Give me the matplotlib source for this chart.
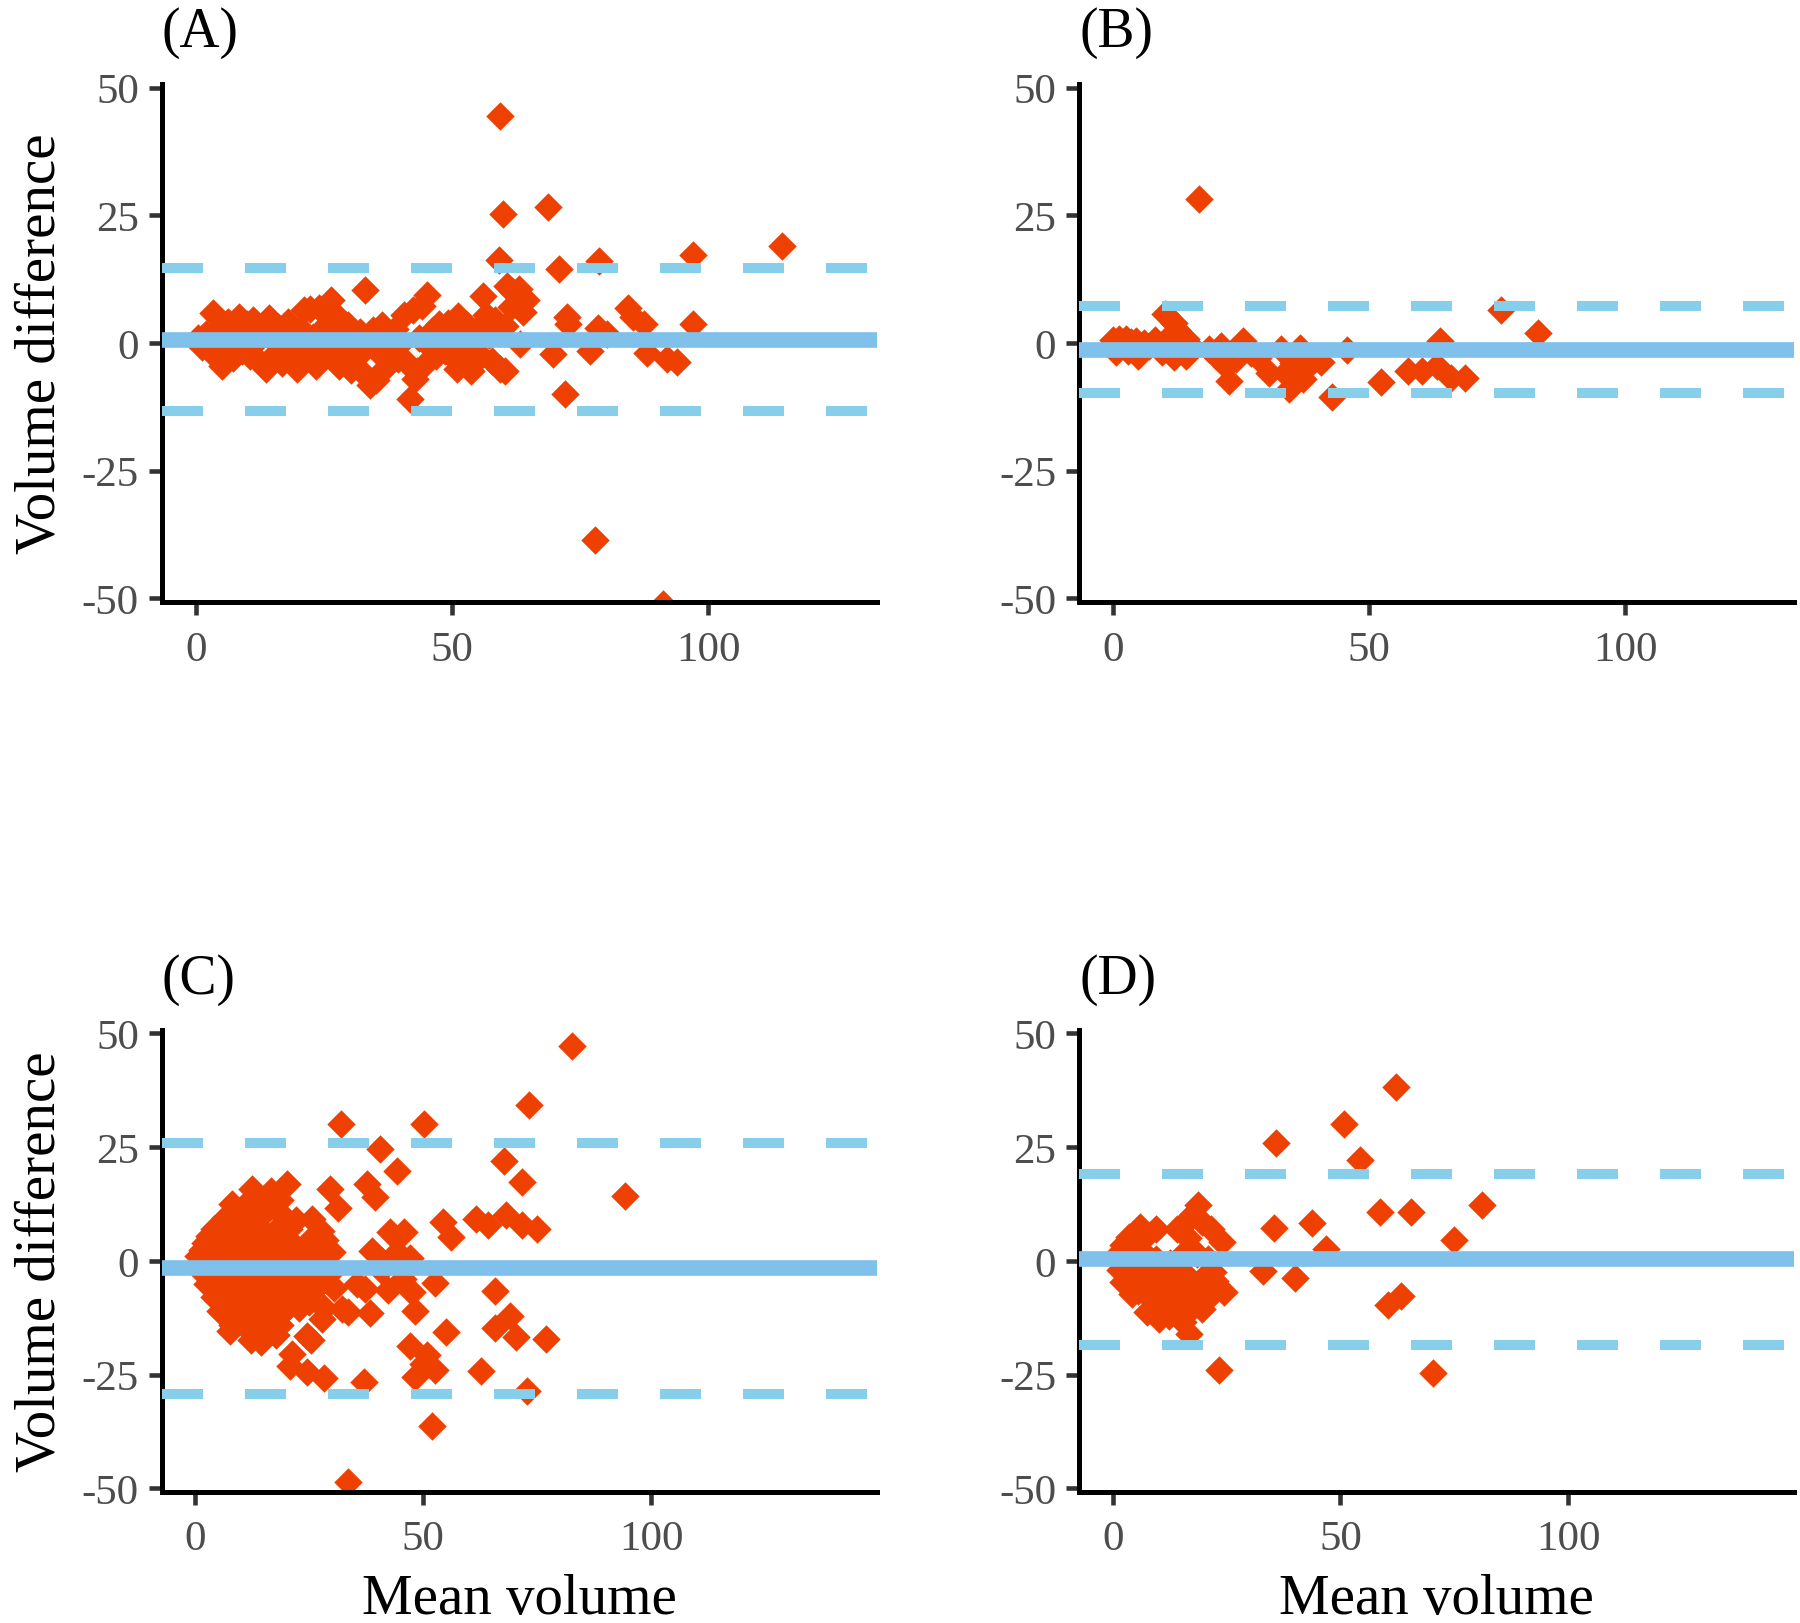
import matplotlib
matplotlib.use("Agg")
import matplotlib.pyplot as plt

plt.rcParams['font.family'] = ['Liberation Serif', 'DejaVu Serif']
plt.rcParams['axes.unicode_minus'] = False

# ---- data ----
panel_labels = ["(A)", "(B)", "(C)", "(D)"]

a_mean = [0.3, 1.2, 2.0, 2.8, 3.4, 3.8, 4.5, 5.0, 5.6, 6.3, 6.8, 7.2, 7.8, 8.4, 8.9, 9.5,
          10.0, 10.6, 11.2, 11.8, 12.4, 13.0, 13.6, 14.2, 14.8, 15.4, 16.0, 16.7, 17.3, 18.0,
          18.6, 19.2, 19.8, 20.5, 21.0, 21.6, 22.3, 22.8, 23.4, 24.1, 24.6, 25.2, 25.8, 26.3,
          26.8, 27.4, 27.9, 28.5, 29.1, 29.6, 30.2, 30.8, 31.4, 32.0, 32.6, 33.1, 33.5, 34.0,
          34.6, 35.2, 35.8, 36.4, 37.0, 37.6, 38.2, 38.8, 39.4, 40.0, 40.6, 41.2, 41.8, 42.3,
          42.8, 43.1, 43.6, 44.2, 44.7, 45.1, 45.6, 46.2, 46.8, 47.4, 48.0, 48.6, 49.2, 49.8,
          50.4, 50.9, 51.2, 51.8, 52.4, 53.0, 53.8, 54.4, 55.0, 55.6, 56.1, 56.6, 57.2, 57.8,
          58.4, 59.2, 59.4, 59.4, 60.0, 60.4, 60.7, 61.5, 62.0, 60.3, 63.3, 63.9, 63.0, 64.5,
          68.8, 70.8, 69.8, 72.4, 72.6, 72.1, 77.0, 78.0, 78.6, 78.8, 80.2, 84.4, 85.4, 87.4,
          88.0, 91.3, 91.9, 93.9, 97.0, 97.0, 114.5]
a_diff = [1.0, -0.8, 1.8, -1.5, 5.8, 0.5, 2.8, -4.5, -1.2, 4.2, 0.8, -3.0, 2.2, 5.0, -1.5, 1.0,
          3.8, -2.5, 4.5, 0.2, -3.5, 2.5, -5.0, 4.8, 0.8, -2.2, 3.2, -4.0, 1.2, 4.2,
          -2.5, 0.5, -5.0, 2.8, 6.5, -1.8, 6.6, 1.2, -4.5, 6.8, 2.5, -2.0, 4.0, 8.4,
          -0.5, 5.5, -4.5, 1.8, -2.2, 3.5, -5.2, 0.6, -2.8, 2.2, -5.8, 10.3, 0.0, -8.2,
          2.5, -7.3, -2.0, 3.5, -4.8, 0.8, -1.5, 2.8, -3.2, 0.0, 5.4, -4.0, -11.0, 6.5,
          -7.0, -5.5, 1.0, 7.3, -4.2, 9.4, -0.5, 2.5, -2.5, 3.8, 0.5, -1.5, 4.0, 1.5,
          -3.0, -5.1, 5.3, 2.2, -1.8, 3.5, -5.5, 0.5, 3.0, -2.5, 9.2, 5.5, 1.5, -3.5,
          4.5, 16.2, 44.5, -5.1, 25.2, 3.3, 11.2, 7.0, 10.0, -5.5, -0.2, 6.0, 10.5, 8.5,
          26.6, 14.4, -2.2, 5.0, 3.8, -10.0, -1.5, -38.5, 3.0, 16.1, 1.7, 6.9, 5.0, 3.7,
          -1.9, -51.0, -3.2, -3.7, 17.2, 3.7, 18.9]

b_mean = [0.0, 0.5, 1.2, 2.0, 2.4, 2.8, 3.5, 4.4, 4.9, 5.5, 6.0, 7.0, 8.2, 9.6, 10.2, 11.0,
          11.9, 11.9, 12.5, 13.2, 14.3, 14.3, 15.2, 16.7, 18.7, 20.0, 21.0, 22.0, 22.7, 23.9,
          25.3, 26.0, 27.0, 28.3, 30.5, 32.7, 33.6, 34.4, 35.2, 36.5, 37.0, 38.9, 40.5, 42.7,
          45.6, 52.3, 57.5, 60.4, 63.3, 63.9, 65.9, 68.8, 75.8, 82.9]
b_diff = [0.5, -1.8, 0.8, -0.3, 0.8, -1.5, 0.2, 0.4, -2.5, -0.8, 0.0, -0.5, 0.5, -1.8, 5.6, 1.4,
          4.0, -2.8, 2.5, 0.2, 0.8, -2.5, -0.5, 28.1, -1.2, -2.5, -0.5, -4.5, -7.4, -3.2,
          0.4, -1.0, -1.9, -3.0, -5.8, -1.2, -5.8, -9.0, -4.0, -1.0, -7.1, -3.8, -3.8, -10.5,
          -1.3, -7.7, -5.5, -5.5, -4.5, 0.4, -6.8, -6.8, 6.5, 1.9]

c_mean = [82.7, 73.2, 32.0, 50.2, 40.6, 44.2, 67.8, 71.6, 94.2, 29.6, 31.3, 37.6, 39.4, 20.0,
          12.4, 16.6, 54.3, 56.0, 61.6, 64.2, 68.2, 71.7, 75.0, 42.6, 45.8, 38.7, 44.3, 47.2,
          41.0, 40.7, 45.6, 35.4, 37.3, 42.2, 52.6, 47.6, 65.7, 48.2, 38.3, 33.4, 32.2, 27.8,
          28.3, 22.7, 69.0, 65.8, 70.3, 77.0, 55.1, 47.0, 50.8, 48.1, 52.5, 50.0, 62.7, 72.8,
          36.9, 51.9, 33.5, 21.2, 25.3, 20.8, 24.6, 28.2, 17.6, 12.2, 14.4, 7.5, 24.5,
          6.5, 9.5, 13.0, 16.0, 19.0, 22.0, 25.6,
          4.0, 7.3, 10.5, 14.0, 17.5, 20.5, 27.5,
          2.0, 5.5, 9.0, 12.5, 16.0, 19.0, 27.0, 30.0,
          0.5, 3.5, 7.0, 10.5, 14.0, 17.5, 21.0, 24.5, 28.0,
          1.0, 4.0, 7.5, 11.0, 14.5, 18.0, 21.5, 25.0, 29.0,
          2.5, 5.5, 9.0, 12.5, 16.0, 19.5, 23.0, 26.5, 30.5,
          4.0, 7.0, 10.5, 14.0, 17.5, 21.0, 25.0,
          5.5, 8.5, 12.0, 15.5, 19.0,
          8.0, 11.0, 14.5, 18.5,
          8.0, 11.5, 15.0, 18.5, 3.0, 6.0, 9.5, 13.0, 16.5, 20.0, 25.5, 28.5,
          1.5, 5.0, 8.5, 12.0, 15.5, 19.5, 23.0, 26.5, 2.5, 6.0, 9.5, 13.0, 16.5, 20.0, 23.5, 27.5,
          3.5, 7.0, 10.5, 14.0, 17.5, 21.0, 24.0, 28.0, 6.0, 9.5, 13.0, 16.5, 20.0, 23.0,
          7.0, 10.0, 13.5, 17.0, 20.5]
c_diff = [47.2, 34.2, 30.0, 30.2, 24.7, 19.8, 22.0, 17.4, 14.3, 15.9, 11.6, 16.9, 14.0, 17.0,
          15.9, 15.4, 8.6, 5.3, 9.2, 7.8, 10.1, 8.0, 7.0, 6.3, 6.3, 2.2, 2.0, 0.6,
          0.0, -2.0, -4.0, -5.0, -6.2, -6.4, -4.9, -6.9, -6.6, -11.0, -11.5, -11.2, -10.6, -12.8,
          -10.4, -10.4, -12.2, -14.7, -16.8, -17.2, -15.6, -18.6, -20.7, -25.5, -24.0, -22.6, -24.2, -28.6,
          -26.5, -36.2, -48.5, -20.5, -17.3, -23.0, -24.5, -25.8, -16.3, -17.3, -17.8, -15.3, -16.4,
          9.5, 10.5, 10.0, 11.5, 10.0, 9.0, 9.2,
          7.0, 8.5, 7.0, 7.5, 6.5, 7.0, 6.5,
          4.0, 4.5, 4.0, 3.5, 4.0, 3.5, 3.0, 2.0,
          1.0, 1.5, 0.5, 1.0, 0.5, 1.0, 0.5, 1.0, 0.0,
          -2.0, -2.5, -2.0, -2.5, -2.0, -2.5, -2.0, -2.5, -3.0,
          -5.0, -5.5, -5.0, -5.5, -5.0, -6.0, -5.0, -6.0, -6.0,
          -8.0, -8.5, -8.0, -9.0, -8.0, -8.5, -9.0,
          -11.0, -11.5, -11.0, -12.0, -11.5,
          -14.0, -14.5, -14.5, -14.0,
          12.5, 13.0, 12.5, 13.5, 5.5, 6.0, 5.5, 5.5, 5.5, 5.0, 5.0, 4.5,
          2.5, 3.0, 2.5, 2.0, 2.5, 2.0, 2.0, 1.5, -0.5, -1.0, -0.5, -1.0, -0.5, -1.0, -1.0, -1.5,
          -3.5, -4.0, -3.5, -4.0, -3.5, -4.0, -3.5, -4.5, -6.5, -7.0, -6.5, -7.0, -6.5, -7.0,
          -10.0, -9.5, -10.0, -10.5, -10.0]

d_mean = [62.3, 50.7, 35.8, 54.3, 58.7, 65.6, 81.0, 75.0, 35.4, 43.8, 46.8, 33.0, 40.0, 60.4,
          63.3, 23.3, 70.4,
          18.8, 17.5, 19.5, 21.5, 14.2, 9.4, 3.5, 6.5, 2.3, 16.5, 24.1, 0.8, 4.0, 7.5, 9.5,
          15.0, 18.5, 21.0, 1.5, 5.0, 8.5, 12.0, 15.5, 22.0, 2.3, 6.0, 10.0, 14.0, 18.0,
          21.0, 24.4, 4.3, 8.0, 12.5, 17.8, 20.5, 7.6, 10.1, 12.3, 14.0, 19.5, 16.7,
          6.0, 16.0, 2.5, 12.5, 3.0, 7.0, 11.0, 16.5, 20.0, 5.5, 9.5, 15.0, 22.5, 10.5, 15.5]
d_diff = [38.2, 30.0, 26.0, 22.3, 10.7, 10.7, 12.4, 4.7, 7.3, 8.4, 2.6, -2.3, -3.7, -9.7,
          -7.8, -23.9, -24.6,
          12.3, 10.0, 8.5, 7.0, 7.0, 7.0, 5.2, 4.5, 3.5, 5.0, 4.1, 1.0, 1.5, 1.0, 0.5,
          1.0, 1.5, 0.5, -2.0, -2.5, -2.0, -2.5, -2.5, -2.5, -4.6, -5.0, -5.5, -5.0, -5.5,
          -6.0, -6.9, -7.3, -8.0, -8.5, -9.8, -8.5, -11.3, -12.8, -12.1, -11.0, -10.6, -16.1,
          7.5, 8.5, 1.0, -0.5, -1.0, -3.5, -3.0, -4.0, -3.5, -6.5, -7.0, -7.5, -4.5, -10.0, -13.5]

# bias and limits of agreement (mean, upper, lower)
bias = [0.65, -1.3, -1.65, 0.4]
loa_upper = [14.6, 7.2, 25.9, 19.1]
loa_lower = [-13.4, -9.8, -29.2, -18.4]

point_color = "#EE4000"
bias_color = "#80C1EC"
loa_color = "#87CEEB"

W, H = 1800, 1624
fig = plt.figure(figsize=(W / 100, H / 100), dpi=100)


def frac(left, right, top, bottom):
    return [left / W, 1 - bottom / H, (right - left) / W, (bottom - top) / H]


boxes = [frac(161.7, 877, 85, 603), frac(1079, 1794, 85, 603),
         frac(161.7, 877, 1031.3, 1492.6), frac(1079, 1794, 1031.3, 1492.6)]
xlims = [(-6.7, 133), (-6.7, 133), (-7.4, 149.6), (-7.4, 149.6)]
data = [(a_mean, a_diff), (b_mean, b_diff), (c_mean, c_diff), (d_mean, d_diff)]

for i, ax_box in enumerate(boxes):
    ax = fig.add_axes(ax_box)
    xs, ys = data[i]
    ax.scatter(xs, ys, marker="D", s=210, color=point_color, linewidths=0, zorder=2)
    ax.axhline(bias[i], color=bias_color, lw=11.3, zorder=3)
    for lim in (loa_upper[i], loa_lower[i]):
        ln = ax.axhline(lim, color=loa_color, lw=7.2, zorder=3, solid_capstyle="butt")
        ln.set_dashes((4.1, 4.2))
        ln.set_dash_capstyle("butt")

    ax.set_xlim(*xlims[i])
    ax.set_ylim(-50.7, 50.7)
    ax.set_xticks([0, 50, 100])
    ax.set_yticks([-50, -25, 0, 25, 50])
    for side in ("top", "right"):
        ax.spines[side].set_visible(False)
    for side in ("left", "bottom"):
        ax.spines[side].set_linewidth(3.6)
        ax.spines[side].set_color("black")
    ax.tick_params(direction="out", length=9.4, width=3.3, color="#333333",
                   labelsize=31, labelcolor="#4D4D4D", pad=7)
    ax.tick_params(axis="x", pad=11)

    left_px = ax_box[0] * W
    top_px = (1 - ax_box[1] - ax_box[3]) * H
    fig.text(left_px / W, 1 - (top_px - 38) / H, panel_labels[i], fontsize=40,
             ha="left", va="baseline")

# axis titles
for top, bottom in ((85, 603), (1031.3, 1492.6)):
    fig.text(55 / W, 1 - (top + bottom) / 2 / H, "Volume difference", fontsize=41,
             rotation=90, rotation_mode="anchor", ha="center", va="baseline")
for left, right in ((161.7, 877), (1079, 1794)):
    fig.text((left + right) / 2 / W, 1 - 1614 / H, "Mean volume", fontsize=41,
             ha="center", va="baseline")

fig.savefig("out.png", dpi=100)
